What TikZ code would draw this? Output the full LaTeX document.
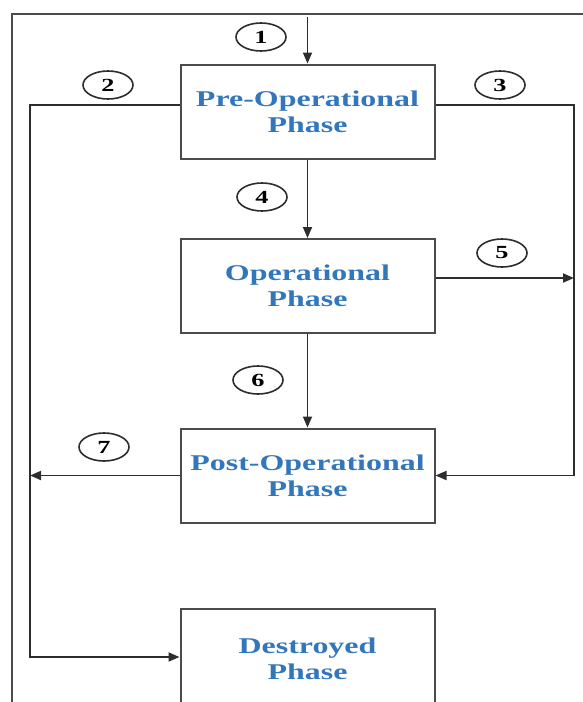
\documentclass[tikz,border=0pt]{standalone}
\usepackage{fontspec}
\newfontfamily\phasefont[FakeStretch=1.42]{Liberation Serif}
\usetikzlibrary{arrows.meta,shapes.geometric}
\definecolor{phaseblue}{RGB}{50,118,188}
\definecolor{linegray}{RGB}{45,45,45}
\definecolor{boxgray}{RGB}{75,75,75}
\begin{document}
\begin{tikzpicture}[x=1pt,y=-1pt,
  phasebox/.style={draw=boxgray,line width=2pt,minimum width=254pt,minimum height=94pt,
    inner sep=0pt,align=center,text=phaseblue,
    font=\phasefont\bfseries\fontsize{22.5}{26}\selectfont},
  numtag/.style={draw=linegray,ellipse,line width=1.6pt,minimum width=50pt,minimum height=28pt,
    inner sep=0pt,font=\phasefont\bfseries\fontsize{18.5}{18.5}\selectfont},
  flow/.style={draw=linegray,line width=1.8pt,-{Triangle[length=11pt,width=9pt]}}]
\useasboundingbox (0,0) rectangle (582,702);

% outer frame (only its top and left sides fall inside the page)
\draw[boxgray,line width=2.4pt] (12,710) -- (12,14) -- (590,14);

% phase boxes
\node[phasebox] (pre)  at (307.5,111.5) {Pre-Operational\\Phase};
\node[phasebox] (op)   at (307.5,286)   {Operational\\Phase};
\node[phasebox] (post) at (307.5,475.5) {Post-Operational\\Phase};
\node[phasebox,minimum height=100pt] (des) at (307.5,659) {Destroyed\\Phase};

% routing points
\coordinate (entry) at (307.5,17);
\coordinate (lrail) at (30,105);
\coordinate (rrail) at (574,105);
\coordinate (mid5)  at (574,278);

% transitions
\draw[flow] (entry) -- (pre.north);
\draw[flow] (pre.west |- lrail) -- (lrail) |- (des.west |- 0,657);
\draw[flow] (pre.east |- rrail) -- (rrail) |- (post.east);
\draw[flow] (pre.south) -- (op.north);
\draw[flow] (op.east |- mid5) -- (mid5);
\draw[flow] (op.south) -- (post.north);
\draw[flow] (post.west) -- (post.west -| lrail);

% transition numbers
\node[numtag] (n1) at (261,37)  {1};
\node[numtag] (n2) at (108,85)  {2};
\node[numtag] (n3) at (500,85)  {3};
\node[numtag] (n4) at (262,197) {4};
\node[numtag] (n5) at (502,253) {5};
\node[numtag] (n6) at (258,380) {6};
\node[numtag] (n7) at (104,447) {7};
\end{tikzpicture}
\end{document}
